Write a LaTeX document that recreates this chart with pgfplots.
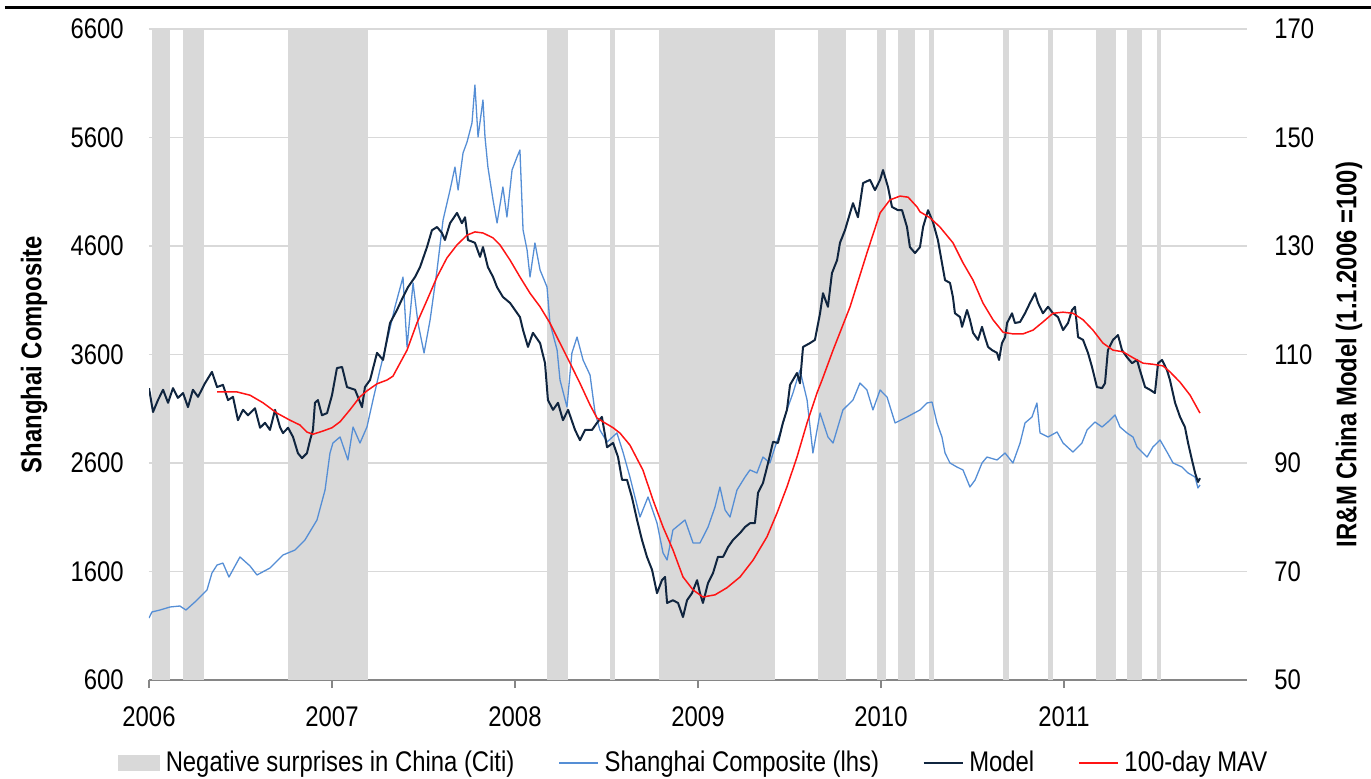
\documentclass[border=0pt]{standalone}
\usepackage{pgfplots}
\pgfplotsset{compat=1.18}
\usepackage{fontspec}
\setmainfont{Liberation Sans}[FakeStretch=0.84]
\definecolor{bandgray}{RGB}{217,217,217}
\definecolor{gridgray}{RGB}{217,217,217}
\definecolor{axisgray}{RGB}{134,134,134}
\definecolor{sseblue}{RGB}{85,142,213}
\definecolor{modelnavy}{RGB}{16,37,63}
\definecolor{mavred}{RGB}{255,20,20}
\newcommand\cf{\fontsize{14.2}{17}\selectfont}
\pgfplotsset{
  base/.style={
    scale only axis, width=549pt, height=325.5pt,
    xmin=0, xmax=6,
    xtick={0,1,2,3,4,5},
    xticklabels={2006,2007,2008,2009,2010,2011},
    tick label style={font=\cf},
    /pgf/number format/1000 sep={},
    /pgf/number format/assume math mode=true,
  },
  band/.style={fill=bandgray, draw=none, forget plot},
}
\begin{document}
\begin{tikzpicture}
\path[use as bounding box] (-74.5pt,-49pt) rectangle (611pt,340pt);
\draw[line width=1.35pt] (-72pt,336.3pt) -- (611pt,336.3pt);
\begin{axis}[base, at={(0,0)}, anchor=south west,
  ymin=600, ymax=6600, ytick={600,1600,...,6600},
  axis x line*=bottom, axis y line*=left,
  x axis line style={axisgray, line width=0.75pt, -},
  y axis line style={draw=none},
  xtick style={axisgray, line width=0.75pt},
  tick align=outside, major tick length=4pt,
  ytick style={draw=none},
  ymajorgrids, grid style={gridgray, line width=0.6pt},
  yticklabel style={anchor=east, inner sep=0pt, xshift=-8.5pt},
  xticklabel style={anchor=north, inner sep=0pt, yshift=-9pt},
  ylabel={\bfseries Shanghai Composite},
  every axis y label/.style={at={(axis description cs:-0.1047,0.5)}, rotate=90, anchor=center, font=\cf},
]
\addplot[band] coordinates {(0.016,600) (0.016,6600) (0.115,6600) (0.115,600)};
\addplot[band] coordinates {(0.186,600) (0.186,6600) (0.301,6600) (0.301,600)};
\addplot[band] coordinates {(0.760,600) (0.760,6600) (1.197,6600) (1.197,600)};
\addplot[band] coordinates {(2.175,600) (2.175,6600) (2.290,6600) (2.290,600)};
\addplot[band] coordinates {(2.519,600) (2.519,6600) (2.546,6600) (2.546,600)};
\addplot[band] coordinates {(2.787,600) (2.787,6600) (3.421,6600) (3.421,600)};
\addplot[band] coordinates {(3.656,600) (3.656,6600) (3.809,6600) (3.809,600)};
\addplot[band] coordinates {(3.978,600) (3.978,6600) (4.027,6600) (4.027,600)};
\addplot[band] coordinates {(4.093,600) (4.093,6600) (4.186,6600) (4.186,600)};
\addplot[band] coordinates {(4.262,600) (4.262,6600) (4.290,6600) (4.290,600)};
\addplot[band] coordinates {(4.667,600) (4.667,6600) (4.699,6600) (4.699,600)};
\addplot[band] coordinates {(4.913,600) (4.913,6600) (4.940,6600) (4.940,600)};
\addplot[band] coordinates {(5.175,600) (5.175,6600) (5.284,6600) (5.284,600)};
\addplot[band] coordinates {(5.344,600) (5.344,6600) (5.426,6600) (5.426,600)};
\addplot[band] coordinates {(5.508,600) (5.508,6600) (5.530,6600) (5.530,600)};
\addplot[sseblue, line width=0.65pt, line join=round, forget plot] coordinates {
(0.000,1171) (0.016,1227) (0.060,1245) (0.115,1273) (0.169,1282) (0.202,1245)
(0.251,1319) (0.317,1430) (0.344,1586) (0.372,1660) (0.404,1678) (0.437,1549)
(0.497,1734) (0.552,1651) (0.590,1568) (0.661,1632) (0.732,1752) (0.798,1798)
(0.852,1890) (0.918,2075) (0.962,2351) (0.989,2692) (1.005,2784) (1.044,2840)
(1.087,2628) (1.115,2932) (1.153,2784) (1.191,2932) (1.224,3181) (1.262,3457)
(1.306,3761) (1.344,4038) (1.388,4314) (1.410,3669) (1.443,4259) (1.470,3890)
(1.503,3614) (1.536,3918) (1.574,4379) (1.607,4840) (1.645,5116) (1.672,5328)
(1.689,5116) (1.716,5457) (1.738,5559) (1.765,5734) (1.781,6084) (1.798,5605)
(1.825,5946) (1.836,5605) (1.852,5328) (1.880,5024) (1.902,4812) (1.934,5144)
(1.956,4867) (1.984,5301) (2.011,5420) (2.027,5485) (2.044,4748) (2.066,4563)
(2.082,4314) (2.109,4628) (2.137,4379) (2.175,4222) (2.191,3890) (2.230,3642)
(2.246,3365) (2.284,3116) (2.311,3614) (2.339,3761) (2.372,3549) (2.410,3411)
(2.437,3070) (2.464,2904) (2.503,2794) (2.557,2877) (2.590,2701) (2.628,2471)
(2.683,2102) (2.727,2287) (2.776,2047) (2.809,1771) (2.831,1706) (2.863,1983)
(2.929,2075) (2.973,1863) (3.011,1863) (3.055,2010) (3.093,2195) (3.120,2379)
(3.148,2167) (3.175,2102) (3.213,2351) (3.257,2471) (3.284,2536) (3.322,2508)
(3.355,2655) (3.393,2600) (3.421,2748) (3.448,2877) (3.486,3089) (3.519,3245)
(3.557,3457) (3.596,3181) (3.628,2692) (3.667,3061) (3.710,2840) (3.738,2784)
(3.792,3089) (3.847,3181) (3.885,3337) (3.923,3273) (3.956,3089) (3.995,3273)
(4.033,3208) (4.077,2969) (4.142,3024) (4.213,3089) (4.251,3153) (4.279,3162)
(4.306,2969) (4.333,2840) (4.350,2692) (4.377,2600) (4.415,2563) (4.448,2536)
(4.486,2379) (4.514,2443) (4.552,2600) (4.579,2655) (4.634,2628) (4.678,2692)
(4.721,2600) (4.760,2784) (4.787,2969) (4.825,3024) (4.852,3153) (4.869,2877)
(4.913,2840) (4.962,2886) (4.995,2784) (5.049,2701) (5.098,2784) (5.126,2904)
(5.169,2978) (5.208,2932) (5.240,2978) (5.279,3043) (5.306,2932) (5.344,2877)
(5.377,2840) (5.399,2748) (5.454,2655) (5.486,2748) (5.525,2812) (5.563,2701)
(5.596,2600) (5.645,2563) (5.678,2508) (5.716,2471) (5.732,2370) (5.743,2397)
};
\end{axis}
\begin{axis}[base, at={(0,0)}, anchor=south west,
  ymin=50, ymax=170, ytick={50,70,...,170},
  axis x line=none, axis y line*=right,
  y axis line style={draw=none}, ytick style={draw=none},
  yticklabel style={anchor=west, inner sep=0pt, xshift=13.5pt},
  ylabel={\bfseries IR\&M China Model (1.1.2006 =100)},
  every axis y label/.style={at={(axis description cs:1.0929,0.5)}, rotate=90, anchor=center, font=\cf},
  legend style={at={(axis description cs:0.496,-0.1275)}, anchor=center, draw=none, fill=none,
    font=\cf, legend columns=4, nodes={inner sep=1pt},
    /tikz/every odd column/.append style={column sep=2pt},
    /tikz/every even column/.append style={column sep=21pt}},
  legend cell align=left,
  legend image code/.code={\draw[#1, line width=0.6pt] (0pt,0pt) -- (19.5pt,0pt);},
]
\addlegendimage{legend image code/.code={\fill[bandgray] (0pt,-3.75pt) rectangle (20.5pt,3.75pt);}}
\addlegendentry{Negative surprises in China (Citi)}
\addlegendimage{sseblue}
\addlegendentry{Shanghai Composite (lhs)}
\addplot[modelnavy, line width=1pt, line join=round] coordinates {
(0.000,103.8) (0.022,99.4) (0.049,101.6) (0.077,103.5) (0.104,101.1) (0.131,103.8)
(0.158,102.0) (0.186,102.9) (0.213,100.3) (0.240,103.5) (0.268,102.2) (0.306,104.7)
(0.344,106.8) (0.372,104.0) (0.404,104.4) (0.432,101.6) (0.459,102.2) (0.486,97.9)
(0.514,99.8) (0.541,98.8) (0.579,100.1) (0.607,96.5) (0.634,97.4) (0.661,96.1)
(0.689,99.8) (0.716,96.6) (0.732,95.5) (0.760,96.5) (0.787,94.8) (0.814,91.8)
(0.836,90.9) (0.863,91.8) (0.880,94.2) (0.896,96.1) (0.907,101.1) (0.923,101.6)
(0.945,98.8) (0.973,99.2) (1.000,102.5) (1.027,107.5) (1.055,107.7) (1.082,104.0)
(1.126,103.5) (1.164,100.3) (1.180,104.0) (1.208,105.3) (1.246,110.3) (1.279,109.0)
(1.317,115.8) (1.355,118.2) (1.388,120.6) (1.415,122.4) (1.454,124.3) (1.481,126.1)
(1.519,129.8) (1.546,132.9) (1.574,133.5) (1.601,132.4) (1.617,131.1) (1.645,134.2)
(1.683,136.1) (1.710,134.2) (1.727,135.3) (1.743,131.1) (1.781,130.6) (1.809,128.0)
(1.825,129.8) (1.852,126.1) (1.880,124.3) (1.902,122.4) (1.934,120.6) (1.973,119.5)
(2.000,118.2) (2.027,116.9) (2.044,114.5) (2.071,111.4) (2.098,114.0) (2.137,112.1)
(2.164,108.4) (2.180,101.6) (2.208,99.8) (2.235,101.1) (2.262,97.9) (2.290,99.8)
(2.328,96.1) (2.355,94.2) (2.383,96.1) (2.421,96.1) (2.448,97.4) (2.475,98.5)
(2.503,92.9) (2.536,93.7) (2.563,91.1) (2.585,86.9) (2.612,86.9) (2.639,83.7)
(2.667,79.5) (2.694,75.8) (2.721,72.7) (2.749,70.3) (2.776,66.0) (2.803,68.4)
(2.820,69.0) (2.831,64.2) (2.863,64.7) (2.891,64.2) (2.918,61.6) (2.940,64.7)
(2.967,66.0) (2.995,68.4) (3.011,66.0) (3.027,64.2) (3.055,67.9) (3.082,69.7)
(3.109,72.7) (3.137,72.7) (3.164,74.5) (3.191,75.8) (3.230,77.1) (3.257,78.2)
(3.284,78.9) (3.311,78.9) (3.328,84.5) (3.355,86.3) (3.383,90.0) (3.410,93.9)
(3.437,93.7) (3.464,97.4) (3.486,99.8) (3.503,104.4) (3.541,106.6) (3.557,104.7)
(3.574,111.4) (3.612,112.1) (3.639,112.7) (3.667,117.6) (3.683,121.3) (3.710,118.8)
(3.732,125.0) (3.760,127.4) (3.776,130.6) (3.803,132.9) (3.831,136.1) (3.847,137.9)
(3.874,135.3) (3.902,141.6) (3.940,142.2) (3.967,140.3) (3.995,142.2) (4.011,144.0)
(4.038,140.9) (4.060,137.2) (4.093,136.6) (4.115,136.6) (4.142,133.5) (4.158,129.8)
(4.186,128.7) (4.213,129.8) (4.230,133.5) (4.257,136.6) (4.284,134.4) (4.311,131.1)
(4.333,126.9) (4.350,123.7) (4.377,123.2) (4.393,120.6) (4.404,117.6) (4.432,116.9)
(4.443,115.1) (4.470,118.2) (4.486,116.4) (4.503,114.0) (4.530,112.7) (4.552,115.1)
(4.568,113.2) (4.585,111.4) (4.607,110.8) (4.634,110.3) (4.645,109.0) (4.661,112.1)
(4.678,113.2) (4.689,115.8) (4.716,117.6) (4.732,115.8) (4.760,116.0) (4.787,117.6)
(4.814,119.5) (4.842,121.3) (4.858,119.5) (4.885,117.6) (4.913,118.8) (4.940,117.6)
(4.967,116.9) (4.995,114.5) (5.022,115.8) (5.044,118.2) (5.060,118.8) (5.077,113.2)
(5.104,112.7) (5.131,110.3) (5.153,107.7) (5.180,104.0) (5.208,103.8) (5.224,104.7)
(5.240,110.8) (5.268,112.7) (5.295,113.6) (5.317,110.8) (5.344,109.5) (5.372,108.4)
(5.399,109.0) (5.415,107.1) (5.443,104.0) (5.470,103.5) (5.497,102.9) (5.514,108.4)
(5.536,109.0) (5.563,107.1) (5.579,105.3) (5.607,101.1) (5.634,98.5) (5.661,96.6)
(5.678,93.7) (5.699,90.6) (5.716,88.2) (5.732,86.5) (5.743,87.2)
};
\addlegendentry{Model}
\addplot[mavred, line width=0.75pt, line join=round] coordinates {
(0.372,103.1) (0.481,103.1) (0.552,102.5) (0.623,101.1) (0.699,99.2) (0.770,97.9)
(0.825,97.0) (0.863,95.7) (0.896,95.3) (0.951,95.9) (1.000,96.5) (1.044,97.6)
(1.098,99.8) (1.153,102.2) (1.191,103.3) (1.246,104.6) (1.301,105.3) (1.333,106.0)
(1.410,110.8) (1.464,115.8) (1.519,120.0) (1.574,124.3) (1.628,127.8) (1.683,130.2)
(1.738,132.0) (1.781,132.6) (1.825,132.4) (1.880,131.5) (1.918,130.2) (1.973,127.4)
(2.027,124.3) (2.082,121.3) (2.137,118.8) (2.191,115.8) (2.246,112.1) (2.301,108.4)
(2.355,104.7) (2.410,100.7) (2.448,98.3) (2.481,97.6) (2.536,96.5) (2.574,95.5)
(2.628,93.3) (2.699,88.7) (2.754,83.2) (2.809,78.2) (2.863,74.0) (2.918,69.0)
(2.973,66.6) (3.027,65.3) (3.093,65.7) (3.158,67.0) (3.230,69.0) (3.301,72.1)
(3.377,76.4) (3.432,80.8) (3.486,85.6) (3.541,91.1) (3.596,97.4) (3.650,102.9)
(3.678,105.3) (3.738,110.8) (3.831,118.8) (3.923,128.7) (3.995,136.1) (4.049,138.5)
(4.104,139.2) (4.148,139.0) (4.197,137.2) (4.213,136.3) (4.268,135.2) (4.322,133.5)
(4.393,130.6) (4.448,126.9) (4.503,123.7) (4.557,119.5) (4.612,116.4) (4.667,114.1)
(4.721,113.8) (4.776,113.8) (4.831,114.5) (4.885,116.0) (4.940,117.6) (4.995,117.8)
(5.049,117.6) (5.104,116.4) (5.158,114.5) (5.213,112.1) (5.268,110.8) (5.322,110.5)
(5.377,109.4) (5.432,108.4) (5.486,108.2) (5.541,107.9) (5.579,106.8) (5.634,104.9)
(5.689,102.5) (5.743,99.2)
};
\addlegendentry{100-day MAV}
\end{axis}
\end{tikzpicture}
\end{document}
